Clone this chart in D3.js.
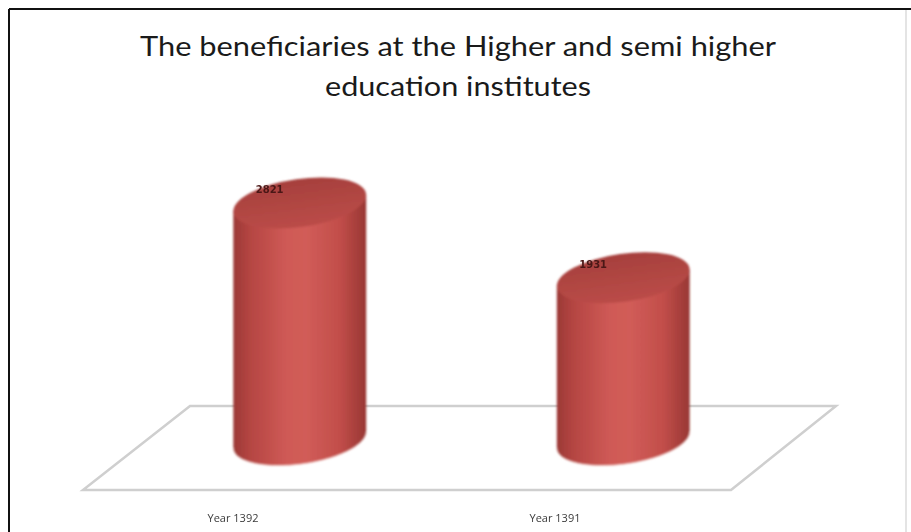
<!DOCTYPE html>
<html>
<head>
<meta charset="utf-8">
<script src="https://cdn.jsdelivr.net/npm/d3@7"></script>
<style>
html,body{margin:0;padding:0;background:#fff;}
svg{display:block;}
</style>
</head>
<body>
<svg id="chart" width="911" height="532"></svg>
<script>
const titleLines = ["The beneficiaries at the Higher and semi higher", "education institutes"];
const categories = ["Year 1392", "Year 1391"];
const values = [2821, 1931];

const W = 911, H = 532;
const svg = d3.select("#chart");

// frame
svg.append("rect").attr("x",0).attr("y",0).attr("width",W).attr("height",H).attr("fill","#fff");
svg.append("line").attr("x1",9).attr("x2",W).attr("y1",9).attr("y2",9).attr("stroke","#111").attr("stroke-width",2);
svg.append("line").attr("x1",9).attr("x2",9).attr("y1",9).attr("y2",H).attr("stroke","#111").attr("stroke-width",2);
svg.append("line").attr("x1",906).attr("x2",906).attr("y1",10).attr("y2",H).attr("stroke","#e4e4e4").attr("stroke-width",2);

// title
svg.append("text").attr("x",458).attr("y",56).attr("text-anchor","middle")
  .attr("font-family","Lato, sans-serif").attr("font-size",27).attr("fill","#1a1a1a")
  .attr("textLength",636).attr("lengthAdjust","spacingAndGlyphs").text(titleLines[0]);
svg.append("text").attr("x",458).attr("y",96).attr("text-anchor","middle")
  .attr("font-family","Lato, sans-serif").attr("font-size",27).attr("fill","#1a1a1a")
  .attr("textLength",266).attr("lengthAdjust","spacingAndGlyphs").text(titleLines[1]);

// floor
const floor = [[190,406],[836,406],[731,490],[83,490]];
svg.append("path").attr("d", d3.line()(floor) + "Z")
  .attr("fill","none").attr("stroke","#cfcfcf").attr("stroke-width",2.5);

// scales
const x = d3.scaleBand().domain(categories).range([138, 785]);
const y = d3.scaleLinear().domain([0, 2821]).range([440, 203]);

// gradients
const defs = svg.append("defs");
const gb = defs.append("linearGradient").attr("id","body").attr("x1","0%").attr("x2","100%").attr("y1","0%").attr("y2","0%");
[[0,"#9b3936"],[0.12,"#b44542"],[0.4,"#cf5a56"],[0.55,"#d15c58"],[0.8,"#c24e4a"],[1,"#983734"]]
  .forEach(s=>gb.append("stop").attr("offset",s[0]).attr("stop-color",s[1]));
const gt = defs.append("linearGradient").attr("id","top").attr("x1","0%").attr("x2","0%").attr("y1","0%").attr("y2","100%");
[[0,"#a6403d"],[1,"#bb4c48"]].forEach(s=>gt.append("stop").attr("offset",s[0]).attr("stop-color",s[1]));
const blur = defs.append("filter").attr("id","soft").attr("x","-10%").attr("y","-10%").attr("width","120%").attr("height","120%");
blur.append("feGaussianBlur").attr("stdDeviation",0.8);

const rx = 67, ry = 24, rot = -8;
const th = rot*Math.PI/180;
function ept(cx, cy, t){
  return [cx + rx*Math.cos(t)*Math.cos(th) - ry*Math.sin(t)*Math.sin(th),
          cy + rx*Math.cos(t)*Math.sin(th) + ry*Math.sin(t)*Math.cos(th)];
}
// parameter of rightmost point
const tR = Math.atan2(-ry*Math.sin(th), rx*Math.cos(th));
const tL = tR + Math.PI;

const g = svg.append("g").attr("filter","url(#soft)");
categories.forEach((c,i)=>{
  const cx = x(c) + x.bandwidth()/2;
  const yb = y(0), yt = y(values[i]);
  // body outline: top right -> top left (upper not needed), down left, bottom arc, up right
  const pts = [];
  pts.push(ept(cx, yt, tR));
  pts.push(ept(cx, yt, tL));
  // bottom arc from left through lower part to right (t from tL to tR+2π going through π/2+... )
  const n = 60;
  // lower half: sin component positive => t in (tR, tL) covers lower half (y increasing)
  for (let k=0;k<=n;k++){
    const t = tL - (tL - tR)*k/n; // from tL down to tR passing through ~π/2
    pts.push(ept(cx, yb, t));
  }
  g.append("path").attr("d", d3.line()(pts)+"Z").attr("fill","url(#body)");
  // faint highlight on bottom rim
  const rim = [];
  for (let k=0;k<=n;k++){ rim.push(ept(cx, yb, tL - (tL - tR)*k/n)); }
  g.append("path").attr("d", d3.line()(rim)).attr("fill","none").attr("stroke","#f2c9c4").attr("stroke-width",0.8);
  // top
  g.append("ellipse").attr("cx",cx).attr("cy",yt).attr("rx",rx).attr("ry",ry)
    .attr("transform",`rotate(${rot},${cx},${yt})`).attr("fill","url(#top)");
});

// data labels
categories.forEach((c,i)=>{
  const cx = x(c) + x.bandwidth()/2;
  svg.append("text").attr("x",cx-44).attr("y",y(values[i])-10)
    .attr("font-family","DejaVu Sans, sans-serif").attr("font-size",10).attr("font-weight","bold")
    .attr("fill","#4a1716").text(values[i]);
});

// category labels
const xl = d3.scaleBand().domain(categories).range([72, 716]);
categories.forEach(c=>{
  svg.append("text").attr("x",xl(c)+xl.bandwidth()/2).attr("y",522).attr("text-anchor","middle")
    .attr("font-family","Open Sans, sans-serif").attr("font-size",11).attr("fill","#3a3a3a")
    .text(c);
});
</script>
</body>
</html>
